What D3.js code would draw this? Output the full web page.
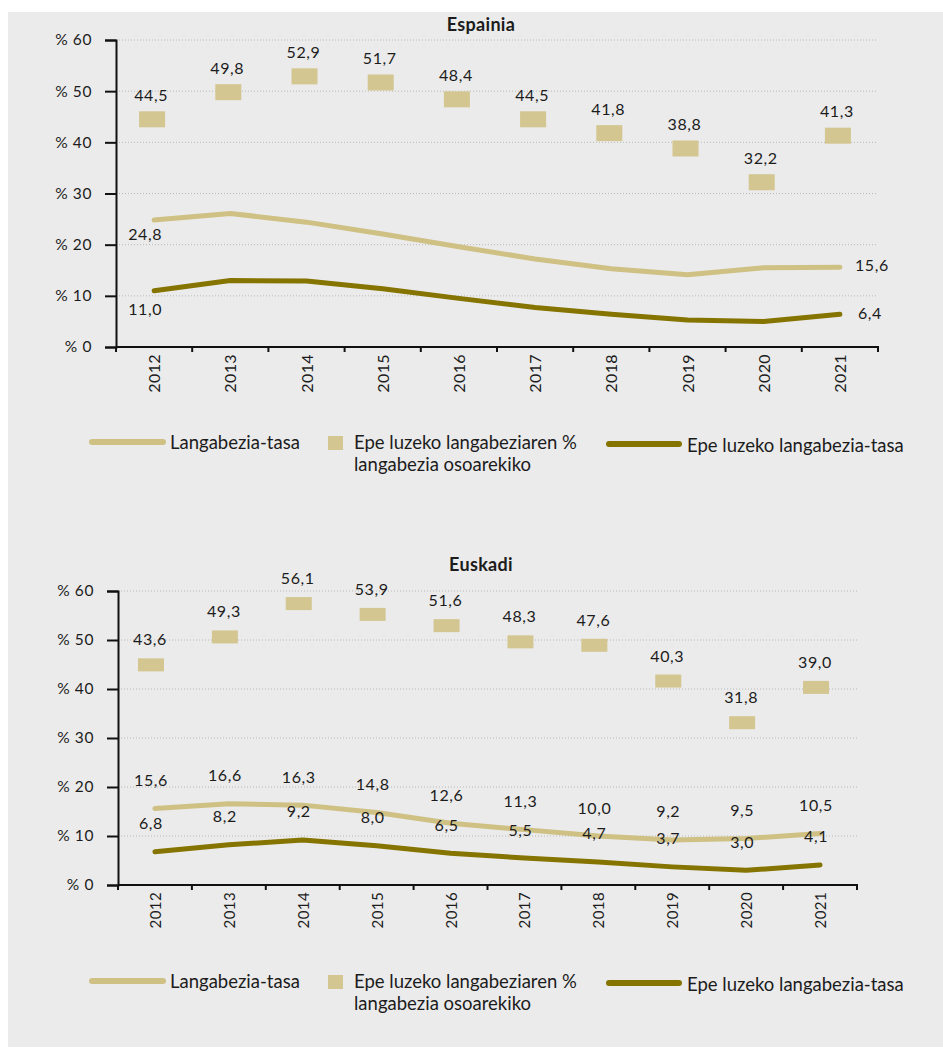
<!DOCTYPE html>
<html>
<head>
<meta charset="utf-8">
<script src="https://cdn.jsdelivr.net/npm/d3@7"></script>
<style>
  html, body { margin: 0; padding: 0; background: #ffffff; }
  svg text { font-family: Lato, "Open Sans", sans-serif; fill: #1c1c1c; }
</style>
</head>
<body>
<svg id="chart" width="943" height="1056"></svg>
<script>
// ---------- DATA ----------
const years = ["2012","2013","2014","2015","2016","2017","2018","2019","2020","2021"];
const yTicks = [0, 10, 20, 30, 40, 50, 60];

const espRate    = [24.8, 26.1, 24.4, 22.1, 19.6, 17.2, 15.3, 14.1, 15.5, 15.6];
const espLtShare = [44.5, 49.8, 52.9, 51.7, 48.4, 44.5, 41.8, 38.8, 32.2, 41.3];
const espLtRate  = [11.0, 13.0, 12.9, 11.4, 9.5, 7.7, 6.4, 5.3, 5.0, 6.4];

const eusRate    = [15.6, 16.6, 16.3, 14.8, 12.6, 11.3, 10.0, 9.2, 9.5, 10.5];
const eusLtShare = [43.6, 49.3, 56.1, 53.9, 51.6, 48.3, 47.6, 40.3, 31.8, 39.0];
const eusLtRate  = [6.8, 8.2, 9.2, 8.0, 6.5, 5.5, 4.7, 3.7, 3.0, 4.1];

const titles = ["Espainia", "Euskadi"];
const legendLabels = ["Langabezia-tasa", ["Epe luzeko langabeziaren %", "langabezia osoarekiko"], "Epe luzeko langabezia-tasa"];

// ---------- STYLE ----------
const C_LIGHT = "#cfc084";
const C_MARK  = "#d3c690";
const C_DARK  = "#857400";
const fmt = v => d3.format(".1f")(v).replace(".", ",");

const svg = d3.select("#chart");
svg.append("rect").attr("x", 8).attr("y", 12).attr("width", 935).attr("height", 1035).attr("fill", "#ebebeb");

function drawChart(cfg) {
  const g = svg.append("g");
  const x = d3.scaleBand().domain(years).range([cfg.left, cfg.right]);
  const y = d3.scaleLinear().domain([0, 60]).range([cfg.bottom, cfg.top]);
  const cx = d => x(d) + x.bandwidth() / 2;

  // title
  g.append("text").attr("x", 481).attr("y", cfg.titleY).attr("text-anchor", "middle")
    .attr("font-weight", 700).attr("font-size", 18).attr("letter-spacing", 0.3).text(cfg.title);

  // gridlines
  g.selectAll(".grid").data(yTicks.filter(t => t > 0)).join("line")
    .attr("x1", cfg.left).attr("x2", cfg.right)
    .attr("y1", d => y(d)).attr("y2", d => y(d))
    .attr("stroke", "#b8b8b8").attr("stroke-width", 1).attr("stroke-dasharray", "1,2");

  // y axis
  const yAxis = g.append("g").attr("transform", `translate(${cfg.left},0)`)
    .call(d3.axisLeft(y).tickValues(yTicks).tickSize(11).tickPadding(13).tickFormat(d => "% " + d));
  yAxis.select(".domain").attr("stroke", "#111").attr("stroke-width", 2);
  yAxis.selectAll(".tick line").attr("stroke", "#111").attr("stroke-width", 2);
  yAxis.selectAll(".tick text").attr("font-family", "Lato, sans-serif").attr("font-size", 15.5)
    .attr("fill", "#1c1c1c").attr("letter-spacing", 0.6);

  // x axis
  g.append("line").attr("x1", cfg.left).attr("x2", cfg.right + 1)
    .attr("y1", cfg.bottom).attr("y2", cfg.bottom).attr("stroke", "#111").attr("stroke-width", 2);
  const edges = years.map(d => x(d)).concat([cfg.right]);
  g.selectAll(".xt").data(edges).join("line")
    .attr("x1", d => d).attr("x2", d => d)
    .attr("y1", cfg.bottom).attr("y2", cfg.bottom + 5)
    .attr("stroke", "#111").attr("stroke-width", 2);
  g.selectAll(".xl").data(years).join("text")
    .attr("transform", d => `translate(${cx(d) + 6},${cfg.bottom + 7}) rotate(-90)`)
    .attr("text-anchor", "end").attr("font-size", cfg.yearSize).attr("letter-spacing", 0.4)
    .text(d => d);

  // lines
  const lineGen = vals => d3.line().x((d, i) => cx(years[i])).y(d => y(d))(vals);
  g.append("path").attr("d", lineGen(cfg.rate)).attr("fill", "none")
    .attr("stroke", C_LIGHT).attr("stroke-width", 5).attr("stroke-linecap", "round").attr("stroke-linejoin", "round");
  g.append("path").attr("d", lineGen(cfg.ltRate)).attr("fill", "none")
    .attr("stroke", C_DARK).attr("stroke-width", 5).attr("stroke-linecap", "round").attr("stroke-linejoin", "round");

  // markers
  const mw = 26;
  g.selectAll(".mk").data(cfg.share).join("rect")
    .attr("x", (d, i) => cx(years[i]) + cfg.shift - mw / 2)
    .attr("y", d => y(d) - cfg.markH * cfg.markAnchor)
    .attr("width", mw).attr("height", cfg.markH).attr("fill", C_MARK);

  // marker labels
  g.selectAll(".ml").data(cfg.share).join("text")
    .attr("x", (d, i) => cx(years[i]) + cfg.shift - 1)
    .attr("y", d => y(d) - cfg.markH * cfg.markAnchor + cfg.markH / 2 - cfg.markLabOff + 5.5)
    .attr("text-anchor", "middle").attr("font-size", 16).attr("letter-spacing", 0.6)
    .text(d => fmt(d));

  if (cfg.allLabels) {
    [cfg.rate, cfg.ltRate].forEach(arr => {
      g.selectAll(null).data(arr).join("text")
        .attr("x", (d, i) => cx(years[i]) + cfg.shift)
        .attr("y", d => y(d) - 28 + 5.5)
        .attr("text-anchor", "middle").attr("font-size", 16).attr("letter-spacing", 0.6)
        .text(d => fmt(d));
    });
  } else {
    const n = years.length - 1;
    // first year below line
    g.append("text").attr("x", cx(years[0]) - 9).attr("y", y(cfg.rate[0]) + 14 + 5.5)
      .attr("text-anchor", "middle").attr("font-size", 16).attr("letter-spacing", 0.6).text(fmt(cfg.rate[0]));
    g.append("text").attr("x", cx(years[0]) - 9).attr("y", y(cfg.ltRate[0]) + 19 + 5.5)
      .attr("text-anchor", "middle").attr("font-size", 16).attr("letter-spacing", 0.6).text(fmt(cfg.ltRate[0]));
    // last year right of line
    g.append("text").attr("x", cx(years[n]) + 15).attr("y", y(cfg.rate[n]) - 2 + 5.5)
      .attr("font-size", 16).attr("letter-spacing", 0.6).text(fmt(cfg.rate[n]));
    g.append("text").attr("x", cx(years[n]) + 18).attr("y", y(cfg.ltRate[n]) - 1 + 5.5)
      .attr("font-size", 16).attr("letter-spacing", 0.6).text(fmt(cfg.ltRate[n]));
  }

  // legend
  const ly = cfg.legendY;
  const lg = svg.append("g");
  const lfs = 18.5;
  lg.append("line").attr("x1", 92).attr("x2", 163).attr("y1", ly).attr("y2", ly)
    .attr("stroke", C_LIGHT).attr("stroke-width", 6).attr("stroke-linecap", "round");
  lg.append("text").attr("x", 170).attr("y", ly + 7).attr("font-size", lfs).text(legendLabels[0]);
  lg.append("rect").attr("x", 328).attr("y", ly - 6).attr("width", 15).attr("height", 14).attr("fill", C_MARK);
  lg.append("text").attr("x", 354).attr("y", ly + 7).attr("font-size", lfs).text(legendLabels[1][0]);
  lg.append("text").attr("x", 354).attr("y", ly + 29).attr("font-size", lfs).text(legendLabels[1][1]);
  lg.append("line").attr("x1", 609).attr("x2", 679).attr("y1", ly + 2).attr("y2", ly + 2)
    .attr("stroke", C_DARK).attr("stroke-width", 6).attr("stroke-linecap", "round");
  lg.append("text").attr("x", 687).attr("y", ly + 10).attr("font-size", lfs).text(legendLabels[2]);
}

drawChart({
  title: titles[0], titleY: 31, left: 116, right: 878, top: 40, bottom: 347,
  rate: espRate, share: espLtShare, ltRate: espLtRate,
  shift: -2, markH: 16, markAnchor: 0.5, markLabOff: 24, allLabels: false,
  yearSize: 16, legendY: 442
});
drawChart({
  title: titles[1], titleY: 571, left: 118, right: 857, top: 591, bottom: 885,
  rate: eusRate, share: eusLtShare, ltRate: eusLtRate,
  shift: -4, markH: 13, markAnchor: 1, markLabOff: 25, allLabels: true,
  yearSize: 15, legendY: 981
});
</script>
</body>
</html>
